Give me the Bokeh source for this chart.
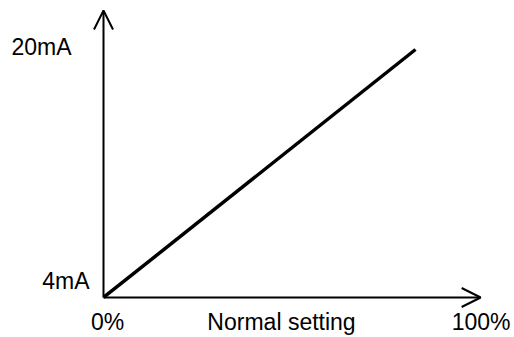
from bokeh.plotting import figure
from bokeh.models import Range1d, Arrow, OpenHead
from bokeh.core.properties import value
from bokeh.embed import file_html
from bokeh.resources import INLINE

# ---- data ----
x_pct = [0, 80]          # Normal setting (%)
y_ma = [4, 20]           # output current (mA)
y_tick_vals = [4, 20]
y_tick_labels = ["4mA", "20mA"]
x_tick_vals = [0, 100]
x_tick_labels = ["0%", "100%"]
x_title = "Normal setting"

FONT = value("Liberation Sans")
FS = "23px"

p = figure(width=514, height=337, output_backend="svg", toolbar_location=None,
           x_axis_location=None, y_axis_location=None, min_border=0,
           x_range=Range1d(-26.41, 105.38), y_range=Range1d(1.419, 23.161))
p.grid.visible = False
p.outline_line_color = None
p.background_fill_color = "white"
p.border_fill_color = "white"

# axes with open arrow heads
p.add_layout(Arrow(end=OpenHead(size=19, line_width=2, line_color="black"),
                   x_start=0, y_start=y_ma[0], x_end=0, y_end=22.52,
                   line_width=2, line_color="black"))
p.add_layout(Arrow(end=OpenHead(size=19, line_width=2, line_color="black"),
                   x_start=0, y_start=y_ma[0], x_end=96.7, y_end=y_ma[0],
                   line_width=2, line_color="black"))

# characteristic line
p.line(x_pct, y_ma, line_width=3.5, line_color="black")

common = dict(text_baseline="middle", text_font=FONT, text_font_size=FS, text_color="black")

# y tick labels
p.text(x=[0], y=[y_tick_vals[0]], text=[y_tick_labels[0]], text_align="right",
       x_offset=-14, y_offset=-16.5, **common)
p.text(x=[0], y=[y_tick_vals[1]], text=[y_tick_labels[1]], text_align="right",
       x_offset=-32, y_offset=-2.5, **common)

# x tick labels
p.text(x=[x_tick_vals[0]], y=[y_ma[0]], text=[x_tick_labels[0]], text_align="center",
       x_offset=4, y_offset=25, **common)
p.text(x=[x_tick_vals[1]], y=[y_ma[0]], text=[x_tick_labels[1]], text_align="right",
       x_offset=17, y_offset=25, **common)

# x title
p.text(x=[50], y=[y_ma[0]], text=[x_title], text_align="center",
       x_offset=-17, y_offset=25, **common)

open("out.html", "w").write(file_html(p, INLINE))
